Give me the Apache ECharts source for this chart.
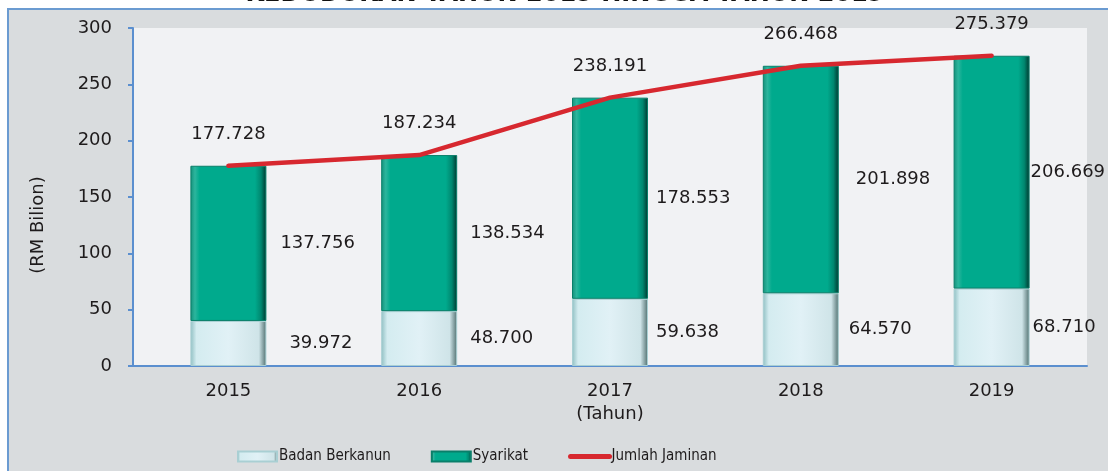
<!DOCTYPE html>
<html>
<head>
<meta charset="utf-8">
<script src="https://cdn.jsdelivr.net/npm/echarts@6/dist/echarts.min.js"></script>
<style>
  html, body { margin: 0; padding: 0; background: #fff; }
  #chart { width: 1108px; height: 471px; }
</style>
</head>
<body>
<div id="chart"></div>
<script>
// data
var years = ['2015', '2016', '2017', '2018', '2019'];
var badanBerkanun = [39.972, 48.700, 59.638, 64.570, 68.710];
var syarikat = [137.756, 138.534, 178.553, 201.898, 206.669];
var jumlahJaminan = [177.728, 187.234, 238.191, 266.468, 275.379];
var yTicks = [0, 50, 100, 150, 200, 250, 300];

var numFont = 'DejaVu Sans';
var txtColor = '#1e1b1c';

function fmt(p) {
    return Number(p.value).toFixed(3);
}

// label gap to the right of each bar (2019 sits close to the edge)
var badanGap = [23, 13, 8, 10, 3];
var syarikatGap = [14, 13, 8, 17, 1];

var chart = echarts.init(document.getElementById('chart'));

var option = {
    backgroundColor: '#ffffff',
    animation: false,
    graphic: [
        {
            type: 'rect',
            z: -10,
            shape: { x: 8, y: 9, width: 1110, height: 470 },
            style: { fill: '#d9dcde', stroke: '#6b9bd1', lineWidth: 2 }
        },
        {
            // title is cut off at the top of the picture
            type: 'text',
            x: 565,
            y: -5,
            z: 10,
            style: {
                text: 'KEDUDUKAN TAHUN 2015 HINGGA TAHUN 2019',
                font: 'bold 24px "DejaVu Sans"',
                fill: '#111',
                align: 'center',
                verticalAlign: 'middle'
            }
        },
        {
            type: 'text',
            x: 38,
            y: 225,
            rotation: Math.PI / 2,
            style: {
                text: '(RM Bilion)',
                font: '18px "DejaVu Sans"',
                fill: txtColor,
                align: 'center',
                verticalAlign: 'middle'
            }
        }
    ],
    grid: {
        left: 133,
        right: 21,
        top: 28,
        bottom: 105,
        show: true,
        backgroundColor: '#f1f2f4',
        borderWidth: 0
    },
    legend: {
        left: 232,
        top: 444,
        itemWidth: 39,
        itemHeight: 10,
        itemGap: 40,
        textStyle: {
            fontFamily: 'DejaVu Sans Condensed',
            fontSize: 15,
            color: txtColor,
            padding: [0, 0, 0, -3]
        },
        data: [
            { name: 'Badan Berkanun', icon: 'rect' },
            { name: 'Syarikat', icon: 'rect' },
            { name: 'Jumlah Jaminan', itemStyle: { opacity: 0 }, lineStyle: { width: 5, cap: 'round' } }
        ]
    },
    xAxis: {
        type: 'category',
        data: years,
        name: '(Tahun)',
        nameLocation: 'middle',
        nameGap: 39,
        nameTextStyle: { fontFamily: numFont, fontSize: 18, color: txtColor },
        axisLine: { lineStyle: { color: '#5b8fcf', width: 2 } },
        axisTick: { show: false },
        axisLabel: {
            fontFamily: numFont,
            fontSize: 18,
            color: txtColor,
            margin: 16
        }
    },
    yAxis: {
        type: 'value',
        min: yTicks[0],
        max: yTicks[yTicks.length - 1],
        interval: 50,
        splitLine: { show: false },
        axisLine: { show: true, lineStyle: { color: '#5b8fcf', width: 2 } },
        axisTick: { show: true, length: 5, lineStyle: { color: '#5b8fcf', width: 2 } },
        axisLabel: {
            fontFamily: numFont,
            fontSize: 18,
            color: txtColor,
            margin: 21
        }
    },
    series: [
        {
            name: 'Badan Berkanun',
            type: 'bar',
            stack: 'jumlah',
            barWidth: 76,
            data: badanBerkanun.map(function (v, i) {
                return { value: v, label: { distance: badanGap[i] } };
            }),
            itemStyle: {
                color: new echarts.graphic.LinearGradient(0, 0, 1, 0, [
                    { offset: 0, color: '#8fbfc2' },
                    { offset: 0.08, color: '#d4ecf0' },
                    { offset: 0.5, color: '#e1f1f6' },
                    { offset: 0.9, color: '#cfe4e8' },
                    { offset: 1, color: '#4f6e6e' }
                ]),
                borderColor: '#a9cfd3',
                borderWidth: 1
            },
            label: {
                show: true,
                position: 'right',
                formatter: fmt,
                fontFamily: numFont,
                fontSize: 18,
                color: txtColor
            }
        },
        {
            name: 'Syarikat',
            type: 'bar',
            stack: 'jumlah',
            barWidth: 76,
            data: syarikat.map(function (v, i) {
                return { value: v, label: { distance: syarikatGap[i] } };
            }),
            itemStyle: {
                color: new echarts.graphic.LinearGradient(0, 0, 1, 0, [
                    { offset: 0, color: '#138f79' },
                    { offset: 0.06, color: '#2cb59d' },
                    { offset: 0.12, color: '#00aa8d' },
                    { offset: 0.85, color: '#00aa8d' },
                    { offset: 0.93, color: '#00876f' },
                    { offset: 1, color: '#00352c' }
                ]),
                borderColor: '#0a7f6a',
                borderWidth: 1
            },
            label: {
                show: true,
                position: 'right',
                formatter: fmt,
                fontFamily: numFont,
                fontSize: 18,
                color: txtColor
            }
        },
        {
            name: 'Jumlah Jaminan',
            type: 'line',
            data: jumlahJaminan,
            z: 5,
            symbol: 'circle',
            symbolSize: 1,
            showSymbol: true,
            lineStyle: { color: '#d7282f', width: 4.5, cap: 'round' },
            itemStyle: { color: '#d7282f' },
            label: {
                show: true,
                position: 'top',
                distance: 22,
                formatter: fmt,
                fontFamily: numFont,
                fontSize: 18,
                color: txtColor
            }
        }
    ]
};

chart.setOption(option);
</script>
</body>
</html>
